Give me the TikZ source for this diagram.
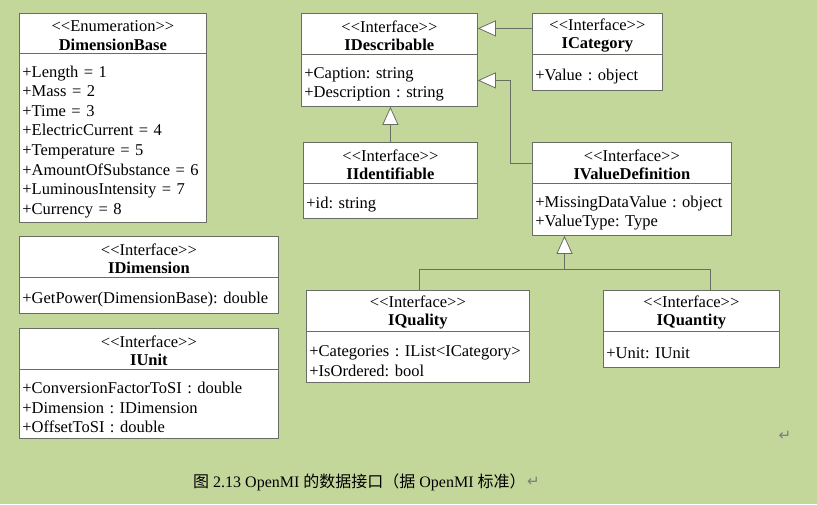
\documentclass[tikz,border=0pt]{standalone}
\usepackage{fontspec}
\setmainfont{Liberation Serif}[Ligatures=TeXOff]
\newfontfamily\cjk{Noto Sans CJK SC}
\newfontfamily\retfont{DejaVu Sans}
\usetikzlibrary{arrows.meta}
\frenchspacing

\definecolor{bggreen}{RGB}{196,215,155}
\definecolor{linegray}{RGB}{105,110,100}
\definecolor{markgray}{RGB}{125,125,125}

\begin{document}
\begin{tikzpicture}[x=1pt, y=-1pt,
		classhead/.style={draw=linegray, fill=white, line width=0.8pt, anchor=north west, align=center, inner xsep=3pt, inner ysep=0pt, font=\fontsize{16.5}{18.5}\selectfont, execute at begin node=\rule{0pt}{15pt}},
		classbody/.style={draw=linegray, fill=white, line width=0.8pt, anchor=north west, align=left, inner xsep=3pt, inner ysep=0pt, font=\fontsize{16.5}{19.6}\selectfont, execute at begin node=\rule{0pt}{19pt}},
		conn/.style={draw=linegray, line width=0.8pt},
		inherit/.style={conn, -{Triangle[fill=white, length=18pt, width=16pt]}},
		retmark/.style={text=markgray, inner sep=0pt, font=\retfont\fontsize{15}{15}\selectfont}]
		% Background
		\fill[bggreen] (0,0) rectangle (817,504);
		\useasboundingbox (0,0) rectangle (817,504);

		% Left column
		\node[classhead, text width=181pt, minimum height=40pt] (DimBaseHead) at (19,13) {<<Enumeration>>\\ \textbf{DimensionBase}};
		\node[classbody, text width=181pt, minimum height=169pt] (DimBaseBody) at (19,53) {+Length = 1\\ +Mass = 2\\ +Time = 3\\ +ElectricCurrent = 4\\ +Temperature = 5\\ +AmountOfSubstance = 6\\ +LuminousIntensity = 7\\ +Currency = 8};

		\node[classhead, text width=253pt, minimum height=41pt] (DimHead) at (19,236) {<<Interface>>\\ \textbf{IDimension}};
		\node[classbody, text width=253pt, minimum height=36pt] (DimBody) at (19,277) {+GetPower(DimensionBase): double};

		\node[classhead, text width=253pt, minimum height=41pt] (UnitHead) at (19,328) {<<Interface>>\\ \textbf{IUnit}};
		\node[classbody, text width=253pt, minimum height=69pt] (UnitBody) at (19,369) {+ConversionFactorToSI : double\\ +Dimension : IDimension\\ +OffsetToSI : double};

		% Describable and its children
		\node[classhead, text width=170pt, minimum height=41pt] (DescHead) at (301,13) {<<Interface>>\\ \textbf{IDescribable}};
		\node[classbody, text width=170pt, minimum height=52pt] (DescBody) at (301,54) {+Caption: string\\ +Description : string};

		\node[classhead, text width=168pt, minimum height=41pt] (IdentHead) at (303,142) {<<Interface>>\\ \textbf{IIdentifiable}};
		\node[classbody, text width=168pt, minimum height=35pt] (IdentBody) at (303,183) {+id: string};
		\draw[inherit] (IdentHead.north) -- (IdentHead.north |- DescBody.south);

		\node[classhead, text width=124pt, minimum height=41pt] (CatHead) at (532,13) {<<Interface>>\\ \textbf{ICategory}};
		\node[classbody, text width=124pt, minimum height=36pt] (CatBody) at (532,54) {+Value : object};
		\draw[inherit] ([yshift=5.5pt]CatHead.west) -- ([yshift=5.5pt]DescHead.east);

		\node[classhead, text width=193pt, minimum height=41pt] (ValDefHead) at (532,142) {<<Interface>>\\ \textbf{IValueDefinition}};
		\node[classbody, text width=193pt, minimum height=52pt] (ValDefBody) at (532,183) {+MissingDataValue : object\\ +ValueType: Type};
		\draw[inherit] (ValDefHead.west) -- ++(-22,0) |- (DescBody.east);

		% Quality and quantity
		\node[classhead, text width=217pt, minimum height=41pt] (QualHead) at (306,290) {<<Interface>>\\ \textbf{IQuality}};
		\node[classbody, text width=217pt, minimum height=51pt] (QualBody) at (306,331) {+Categories : IList<ICategory>\\ +IsOrdered: bool};

		\node[classhead, text width=170pt, minimum height=41pt] (QuanHead) at (603,290) {<<Interface>>\\ \textbf{IQuantity}};
		\node[classbody, text width=170pt, minimum height=36pt] (QuanBody) at (603,331) {+Unit: IUnit};

		\coordinate (QualJoin) at (419,269);
		\coordinate (QuanJoin) at (710,269);
		\coordinate (Junction) at (564.5,269);
		\draw[conn] (QualHead.north -| QualJoin) -- (QualJoin) -- (QuanJoin) -- (QuanHead.north -| QuanJoin);
		\draw[inherit] (Junction) -- (Junction |- ValDefBody.south);

		% Caption
		\node[retmark] (ReturnMark) at (785,436) {↵};
		\node[anchor=west, inner sep=0pt, font=\fontsize{16}{19}\selectfont] (Caption) at (193,482) {{\cjk 图} 2.13 OpenMI {\cjk 的数据接口（据} OpenMI {\cjk 标准）}};
		\node[retmark, anchor=west] (CaptionMark) at ([xshift=1pt]Caption.east) {↵};
	\end{tikzpicture}
\end{document}
